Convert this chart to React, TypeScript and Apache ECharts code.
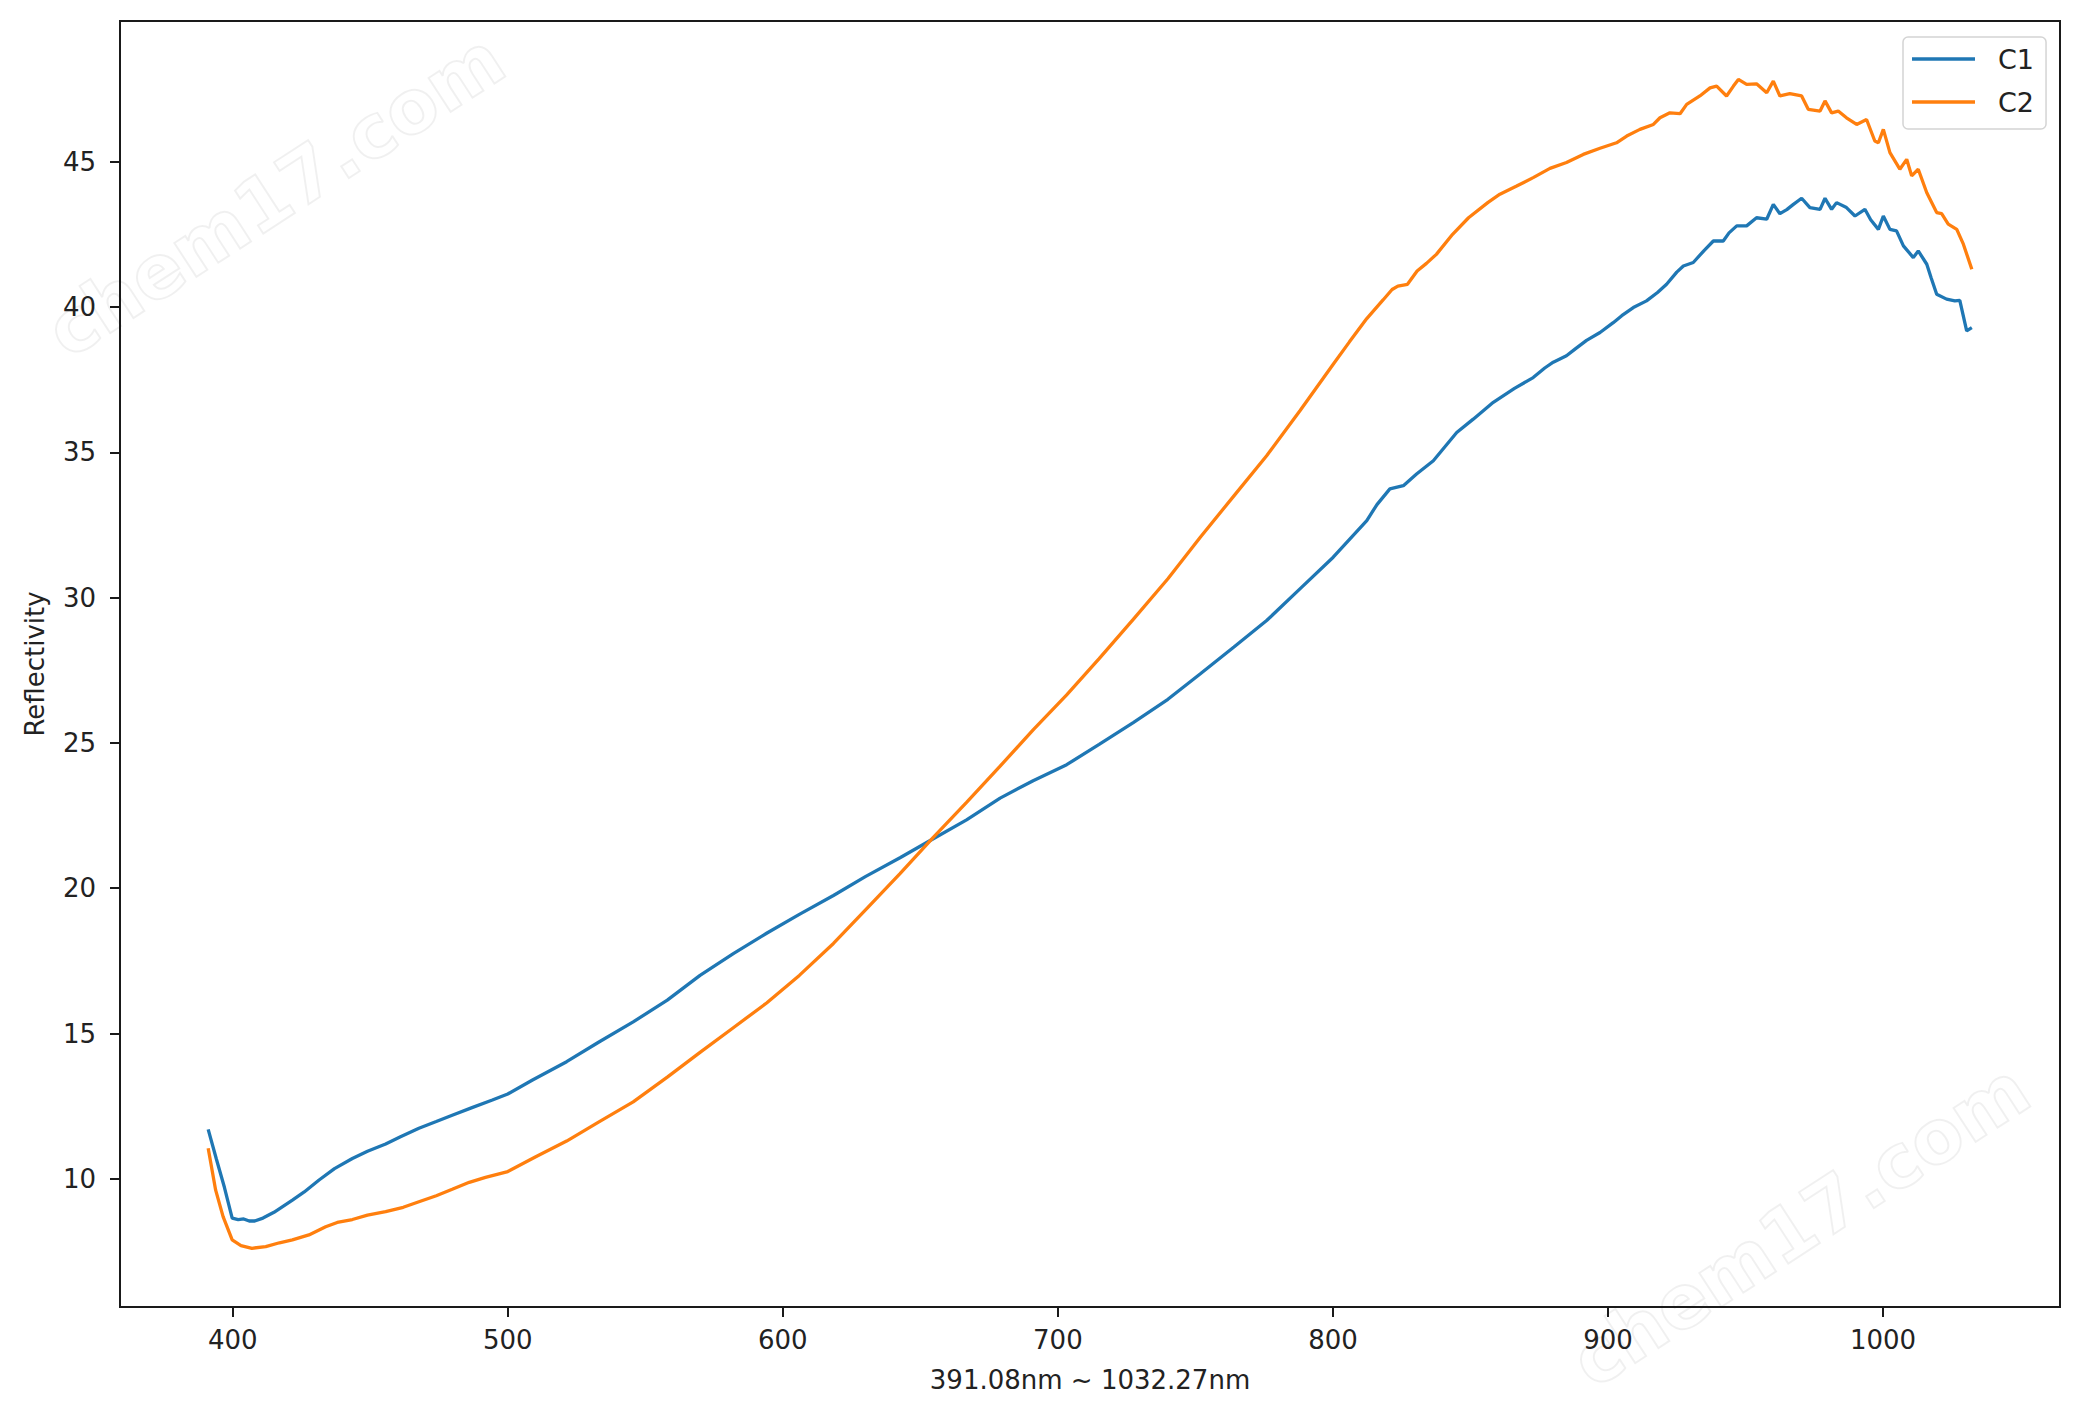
import React, { useEffect, useRef } from "react";
import * as echarts from "echarts";

const C1_X = [391.08, 394, 397, 399.8, 402, 404, 406, 408, 411, 415, 421.7, 426, 431.4, 437, 443.5, 449, 455.6, 461, 467.7, 474, 479.8, 487, 494.4, 500, 509, 521.4, 533, 545.6, 558, 569.9, 582, 594.1, 606, 618.4, 630, 642.6, 654.7, 666.8, 679, 691, 703.2, 715, 727.4, 740, 751.7, 764, 775.9, 788, 800.1, 812.3, 816, 820.7, 825.6, 830.4, 836.5, 845, 851, 858.3, 866, 872.8, 877, 880.1, 884.9, 888, 892.2, 897.1, 901.9, 905, 909.2, 914, 918, 921.3, 925, 927.4, 931, 935, 938.3, 941.9, 944, 946.8, 950.4, 954, 957.7, 960.1, 962.5, 965, 967.4, 970.4, 973.4, 977.1, 978.9, 981.3, 983.1, 986.7, 989.8, 993.4, 995.5, 998.3, 1000.1, 1002.5, 1004.9, 1007.4, 1011, 1012.8, 1015.9, 1017.5, 1019.5, 1023.1, 1026.1, 1027.9, 1030.4, 1032.27];
const C1_Y = [11.7, 10.7, 9.7, 8.65, 8.6, 8.62, 8.55, 8.55, 8.65, 8.85, 9.27, 9.55, 9.96, 10.35, 10.7, 10.95, 11.2, 11.45, 11.74, 11.97, 12.19, 12.45, 12.71, 12.92, 13.4, 14.03, 14.7, 15.4, 16.15, 17.0, 17.75, 18.45, 19.1, 19.75, 20.4, 21.05, 21.7, 22.35, 23.1, 23.7, 24.25, 24.95, 25.7, 26.5, 27.37, 28.3, 29.21, 30.3, 31.39, 32.65, 33.2, 33.74, 33.85, 34.25, 34.71, 35.68, 36.14, 36.72, 37.2, 37.57, 37.9, 38.1, 38.32, 38.55, 38.85, 39.12, 39.46, 39.7, 39.98, 40.21, 40.5, 40.78, 41.2, 41.41, 41.53, 41.95, 42.27, 42.27, 42.55, 42.79, 42.79, 43.07, 43.02, 43.53, 43.21, 43.35, 43.53, 43.74, 43.42, 43.36, 43.74, 43.36, 43.59, 43.42, 43.13, 43.36, 43.0, 42.67, 43.13, 42.67, 42.62, 42.1, 41.7, 41.93, 41.47, 41.0, 40.44, 40.27, 40.21, 40.23, 39.18, 39.29];

const C2_X = [391.08, 393.8, 396.5, 399.8, 403, 407, 412, 417, 421.7, 427.7, 433.8, 438, 443.5, 449, 455.6, 462, 467.7, 474, 479.8, 486, 491.9, 500, 510, 521.4, 533, 545.6, 558, 569.9, 582, 594.1, 606, 618.4, 630.5, 642.6, 654.7, 666.8, 679, 691, 703.2, 715, 727.4, 740, 751.7, 764, 775.9, 788, 800.1, 806, 812.3, 818.3, 821.5, 823.6, 827.1, 830.6, 834, 837.6, 843.5, 849.3, 856.4, 860.7, 866.8, 872.8, 878.9, 884.9, 891, 897.1, 903.1, 906.8, 911.6, 916.5, 918.9, 922.5, 926.2, 928.6, 933.4, 937.1, 939.5, 943.1, 945.6, 947.4, 950.4, 954, 957.7, 960.1, 962.5, 966.1, 970.4, 972.8, 977.1, 978.9, 981.3, 983.7, 986.7, 990.4, 994, 997, 998.3, 1000.1, 1002.5, 1006.1, 1008.6, 1010.4, 1012.8, 1015.9, 1019.5, 1021.3, 1023.7, 1026.8, 1029.2, 1032.27];
const C2_Y = [11.05, 9.61, 8.7, 7.9, 7.7, 7.61, 7.67, 7.8, 7.9, 8.07, 8.35, 8.5, 8.6, 8.75, 8.87, 9.02, 9.21, 9.42, 9.64, 9.88, 10.05, 10.25, 10.75, 11.3, 11.95, 12.65, 13.5, 14.35, 15.2, 16.05, 17.0, 18.1, 19.3, 20.5, 21.75, 22.95, 24.2, 25.45, 26.65, 27.9, 29.25, 30.65, 32.07, 33.5, 34.88, 36.43, 38.03, 38.8, 39.6, 40.25, 40.6, 40.72, 40.78, 41.24, 41.5, 41.81, 42.5, 43.07, 43.6, 43.88, 44.16, 44.45, 44.77, 44.97, 45.25, 45.46, 45.65, 45.88, 46.11, 46.28, 46.51, 46.68, 46.65, 46.97, 47.26, 47.54, 47.6, 47.26, 47.6, 47.83, 47.66, 47.68, 47.37, 47.77, 47.26, 47.34, 47.26, 46.8, 46.74, 47.09, 46.68, 46.74, 46.51, 46.28, 46.45, 45.71, 45.65, 46.11, 45.31, 44.74, 45.08, 44.51, 44.74, 43.93, 43.25, 43.21, 42.85, 42.67, 42.16, 41.3];

const X_TICKS = [400, 500, 600, 700, 800, 900, 1000];
const Y_TICKS = [10, 15, 20, 25, 30, 35, 40, 45];
const SERIES_NAMES = ["C1", "C2"];
const X_NAME = "391.08nm ~ 1032.27nm";
const Y_NAME = "Reflectivity";
const WATERMARK = "chem17.com";

const FONT = "DejaVu Sans";

export default function App() {
  const ref = useRef<HTMLDivElement>(null);
  useEffect(() => {
    document.body.style.margin = "0";
    if (!ref.current) return;
    const chart = echarts.init(ref.current, undefined, { renderer: "svg" });
    const c1 = C1_X.map((x, i) => [x, C1_Y[i]]);
    const c2 = C2_X.map((x, i) => [x, C2_Y[i]]);
    const wm = (x: number, y: number) => ({
      type: "text",
      x,
      y,
      rotation: (33 * Math.PI) / 180,
      z: -1,
      silent: true,
      style: {
        text: WATERMARK,
        font: `bold 74px ${FONT}`,
        fill: "rgba(0,0,0,0)",
        stroke: "rgba(0,0,0,0.06)",
        lineWidth: 2,
        align: "center",
        verticalAlign: "middle",
      },
    });
    chart.setOption({
      animation: false,
      backgroundColor: "#ffffff",
      textStyle: { fontFamily: FONT },
      grid: {
        left: 120,
        top: 21,
        width: 1940,
        height: 1286,
        show: true,
        borderColor: "#1a1a1a",
        borderWidth: 2,
        containLabel: false,
      },
      legend: {
        data: SERIES_NAMES,
        orient: "vertical",
        left: 1903,
        top: 37,
        icon: "rect",
        itemWidth: 63,
        itemHeight: 3.5,
        itemGap: 13,
        padding: [7, 12, 12, 9],
        backgroundColor: "#ffffff",
        borderColor: "#d4d4d4",
        borderWidth: 1.5,
        borderRadius: 5,
        textStyle: {
          fontFamily: FONT,
          fontSize: 27,
          lineHeight: 30,
          color: "#222",
          padding: [0, 0, 0, 18],
        },
      },
      xAxis: {
        type: "value",
        min: 359.02,
        max: 1064.33,
        name: X_NAME,
        nameLocation: "middle",
        nameGap: 60,
        nameTextStyle: { fontFamily: FONT, fontSize: 26, color: "#222" },
        axisLine: { show: true, lineStyle: { color: "#1a1a1a", width: 2 } },
        axisTick: {
          show: true,
          length: 10,
          lineStyle: { color: "#1a1a1a", width: 2 },
          customValues: X_TICKS,
        },
        axisLabel: {
          fontFamily: FONT,
          fontSize: 26,
          color: "#222",
          margin: 20,
          customValues: X_TICKS,
          formatter: (v: number) => String(v),
        },
        splitLine: { show: false },
      },
      yAxis: {
        type: "value",
        min: 5.59,
        max: 49.84,
        name: Y_NAME,
        nameLocation: "middle",
        nameRotate: 90,
        nameGap: 72,
        nameTextStyle: { fontFamily: FONT, fontSize: 26, color: "#222" },
        axisLine: { show: true, lineStyle: { color: "#1a1a1a", width: 2 } },
        axisTick: {
          show: true,
          length: 10,
          lineStyle: { color: "#1a1a1a", width: 2 },
          customValues: Y_TICKS,
        },
        axisLabel: {
          fontFamily: FONT,
          fontSize: 26,
          color: "#222",
          margin: 24,
          customValues: Y_TICKS,
          formatter: (v: number) => String(v),
        },
        splitLine: { show: false },
      },
      graphic: [wm(275, 195), wm(1800, 1225)],
      series: [
        {
          name: SERIES_NAMES[0],
          type: "line",
          data: c1,
          symbol: "none",
          smooth: false,
          lineStyle: { color: "#1f77b4", width: 3.3 },
          itemStyle: { color: "#1f77b4" },
        },
        {
          name: SERIES_NAMES[1],
          type: "line",
          data: c2,
          symbol: "none",
          smooth: false,
          lineStyle: { color: "#ff7f0e", width: 3.3 },
          itemStyle: { color: "#ff7f0e" },
        },
      ],
    });
    return () => chart.dispose();
  }, []);
  return <div ref={ref} style={{ width: 2079, height: 1420 }} />;
}
